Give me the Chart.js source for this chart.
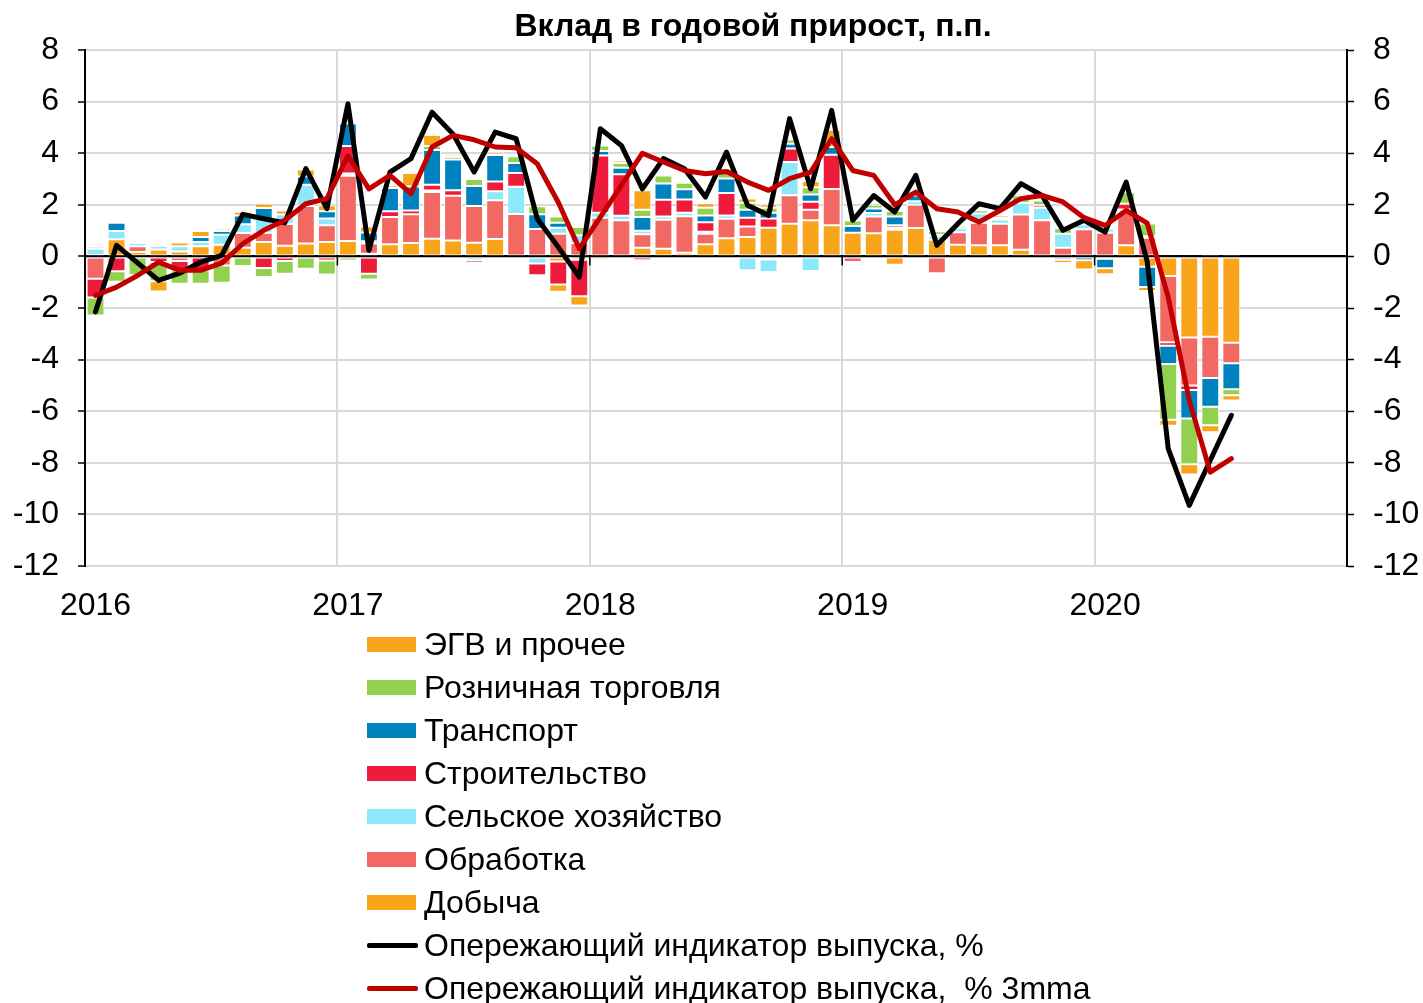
<!DOCTYPE html>
<html>
<head>
<meta charset="utf-8">
<script src="https://cdn.jsdelivr.net/npm/chart.js@4.4.1/dist/chart.umd.min.js"></script>
<style>
  body { margin: 0; background: #fff; font-family: "Liberation Sans", Arial, sans-serif; }
  #wrap { position: relative; width: 1423px; height: 1003px; }
  #title { position: absolute; top: 7px; left: 753px; transform: translateX(-50%); font-weight: bold; font-size: 32px; white-space: nowrap; color: #000; }
  #legend { position: absolute; left: 367px; top: 623px; }
  .row { height: 43px; display: flex; align-items: center; font-size: 32px; white-space: pre; color: #000; }
  .sw { width: 49px; height: 15px; margin-right: 8px; }
  .ln { width: 51px; height: 5px; margin-right: 6px; border-radius: 2px; }
</style>
</head>
<body>
<div id="wrap">
  <canvas id="grafico"></canvas>
  <div id="title">Вклад в годовой прирост, п.п.</div>
  <div id="legend"></div>
</div>
<script>
const months = [
  '2016-01','2016-02','2016-03','2016-04','2016-05','2016-06','2016-07','2016-08','2016-09','2016-10','2016-11','2016-12',
  '2017-01','2017-02','2017-03','2017-04','2017-05','2017-06','2017-07','2017-08','2017-09','2017-10','2017-11','2017-12',
  '2018-01','2018-02','2018-03','2018-04','2018-05','2018-06','2018-07','2018-08','2018-09','2018-10','2018-11','2018-12',
  '2019-01','2019-02','2019-03','2019-04','2019-05','2019-06','2019-07','2019-08','2019-09','2019-10','2019-11','2019-12',
  '2020-01','2020-02','2020-03','2020-04','2020-05','2020-06','2020-07','2020-08','2020-09','2020-10','2020-11','2020-12'
];

// вклады отраслей, п.п. (янв 2016 - июл 2020)
const dobycha = [0.05,0.66,0.17,0.27,0.19,0.39,0.45,0.34,0.56,0.41, 0.5,0.56,0.6,0.1,0.47,0.52,0.68,0.62,0.53,0.67,
  0,0,-0.2,-0.13,-0.13,0,0.34,0.3,0.14,0.47, 0.7,0.75,1.11,1.27,1.4,1.21,0.92,0.9,1.03,1.1,
  0.65,0.45,0.43,0.43,0.26,-0.1,0,0,-0.09,0.43, -0.4,-0.76,-3.14,-3.11,-3.35];
const obrabotka = [-0.87,0,0.22,0,-0.18,0,-0.35,0.57,0.36,0.85, 1.45,0.65,2.53,0.4,1.06,1.11,1.82,1.73,1.42,1.51,
  1.64,1.06,0.88,0.52,1.5,1.4,0.52,1.12,1.42,0.41, 0.76,0.41,-0.12,1.1,0.41,1.4,-0.22,0.65,0.08,0.9,
  -0.65,0.49,0.87,0.84,1.36,1.4,0.34,1.05,0.92,1.29, 0.72,-2.57,-1.86,-1.6,-0.79];
const selkhoz = [0.25,0.32,0.13,0.13,0.2,0.17,0.39,0.34,0.53,0.36, 0.83,0.26,0.08,0.09,0,0,0.05,0,-0.15,0.35,
  1.06,-0.28,0.23,0.3,0.19,0.18,0.13,0.13,0.13,0.08, 0.13,-0.54,-0.48,1.29,-0.57,0,0,0.13,0,0.14,
  0.13,0.15,0.36,0.16,0.45,0.49,0.54,0.2,0.16,0.1, 0.06,0.03,0.04,0.06,0.09];
const stroitelstvo = [-0.72,-0.58,0,-0.22,-0.36,-0.54,0,0,-0.45,-0.18, 0,-0.16,1.07,-0.67,0.22,0.15,0.23,0.21,-0.1,0.37,
  0.53,-0.45,-0.89,-1.41,2.22,1.6,-0.15,0.65,0.52,0.36, 0.87,0.34,0.36,0.52,0.31,1.33,0,0,0.1,0,
  0,0,0,0,0,0.09,0,0,0,0.22, 0,-0.13,-0.18,0,0];
const transport = [0,0.32,0,0,0,0.19,0.14,0.34,0.43,0, 0.32,0.28,0.87,0.34,0.9,0.93,1.34,1.2,0.78,1.03,
  0.39,0.57,0.19,0,0.18,0.26,0.54,0.63,0.39,0.27, 0.56,0.31,0.22,0.19,0.28,0.3,0.26,0.18,0.34,0.22,
  0.06,0,-0.07,0,0,0,-0.13,-0.15,-0.37,0, -0.79,-0.71,-1.1,-1.12,-1.01];
const roznitsa = [-0.7,-0.4,-0.72,-0.74,-0.52,-0.52,-0.67,-0.37,-0.35,-0.49, -0.48,-0.54,-0.16,-0.23,0,0,0.16,0.1,0.27,0,
  0.26,0.31,0.25,0.32,0.21,0.18,0.28,0.31,0.25,0.3, 0.26,0.27,0.2,0.16,0.28,0,0.21,0.14,0.21,0.18,
  0.13,0.1,0.13,0.08,0.3,0.19,0.21,0,0,0.45, 0.5,-2.16,-1.78,-0.71,-0.23];
const egv = [0.08,-0.08,-0.08,-0.4,0.15,0.23,0.09,0.14,0.17,0.16, 0.27,0.23,0.06,0.23,0.1,0.52,0.43,0.09,0.08,0.1,
  0,-0.05,-0.28,-0.36,0,0.1,0.75,0.06,0,0.17, 0.13,0.16,0.12,0,0.23,0.67,0.08,0,-0.32,0.08,
  0.06,0.06,0,0.09,0.09,-0.05,-0.13,-0.36,-0.23,-0.08, -0.15,-0.23,-0.39,-0.28,-0.21];

// опережающий индикатор выпуска, %
const indikator = [-2.15,0.43,-0.25,-0.93,-0.65,-0.22,0.04,1.63,1.46,1.3, 3.4,1.85,5.92,0.23,3.27,3.79,5.59,4.74,3.27,4.82,
  4.56,1.46,0.36,-0.8,4.95,4.3,2.62,3.79,3.4,2.3, 4.04,1.98,1.59,5.34,2.62,5.66,1.4,2.36,1.72,3.14,
  0.43,1.27,2.04,1.85,2.82,2.36,1.01,1.4,0.94,2.88, -0.2,-7.45,-9.65,-7.9,-6.16];
const indikator3mma = [-1.51,-1.19,-0.74,-0.22,-0.54,-0.54,-0.26,0.49,1.01,1.4, 2.04,2.24,3.9,2.62,3.14,2.43,4.24,4.69,4.52,4.24,
  4.21,3.59,2.1,0.3,1.52,2.75,4.0,3.66,3.33,3.2, 3.29,2.88,2.56,3.01,3.27,4.56,3.33,3.14,2.0,2.49,
  1.85,1.72,1.33,1.78,2.24,2.36,2.11,1.5,1.2,1.78, 1.29,-1.58,-5.58,-8.36,-7.84];

const yTicks = [-12, -10, -8, -6, -4, -2, 0, 2, 4, 6, 8];

Chart.defaults.font.family = '"Liberation Sans", Arial, sans-serif';
Chart.defaults.color = '#000';

function barra(label, data, color) {
  return {
    label: label,
    data: data,
    backgroundColor: color,
    borderColor: '#ffffff',
    borderWidth: 1,
    borderSkipped: false,
    barPercentage: 0.85,
    categoryPercentage: 1,
    stack: 'bars',
    order: 2
  };
}

function linea(label, data, color, stack, order) {
  return {
    type: 'line',
    label: label,
    data: data,
    borderColor: color,
    backgroundColor: color,
    borderWidth: 5,
    pointRadius: 0,
    fill: false,
    tension: 0,
    borderJoinStyle: 'round',
    borderCapStyle: 'round',
    stack: stack,
    order: order
  };
}

// нулевая линия и засечки по годам поверх столбцов, под линиями
const zeroLine = {
  id: 'zeroLine',
  beforeDatasetDraw(chart, args) {
    if (args.index !== 7) return;
    const { ctx, chartArea, scales } = chart;
    const y0 = scales.y.getPixelForValue(0);
    ctx.save();
    ctx.strokeStyle = '#000';
    ctx.lineWidth = 1.5;
    ctx.beginPath();
    ctx.moveTo(chartArea.left, y0);
    ctx.lineTo(chartArea.right, y0);
    months.forEach((m, i) => {
      if (i > 0 && i % 12 === 0) {
        const x = (scales.x.getPixelForValue(i) + scales.x.getPixelForValue(i - 1)) / 2;
        ctx.moveTo(x, y0);
        ctx.lineTo(x, y0 + 9);
      }
    });
    ctx.stroke();
    ctx.restore();
  }
};

const yAxis = (position, width, grid) => ({
  position: position,
  stacked: true,
  min: yTicks[0],
  max: yTicks[yTicks.length - 1],
  afterBuildTicks: scale => { scale.ticks = yTicks.map(v => ({ value: v })); },
  ticks: { font: { size: 32 }, padding: 19, color: '#000' },
  grid: grid,
  border: { color: '#000', width: 2 },
  afterFit: scale => { scale.width = width; }
});

const myChart = new Chart(document.getElementById('grafico'), {
  type: 'bar',
  data: {
    labels: months,
    datasets: [
      barra('Добыча', dobycha, '#F9A51B'),
      barra('Обработка', obrabotka, '#F26862'),
      barra('Сельское хозяйство', selkhoz, '#8EE8FC'),
      barra('Строительство', stroitelstvo, '#EE1C3A'),
      barra('Транспорт', transport, '#0082BE'),
      barra('Розничная торговля', roznitsa, '#92D050'),
      barra('ЭГВ и прочее', egv, '#F9A51B'),
      linea('Опережающий индикатор выпуска, %', indikator, '#000000', 'ind1', 1),
      linea('Опережающий индикатор выпуска,  % 3mma', indikator3mma, '#C00000', 'ind2', 0)
    ]
  },
  options: {
    responsive: true,
    maintainAspectRatio: false,
    animation: false,
    layout: { padding: { top: 50, bottom: 377, left: 0, right: 0 } },
    plugins: { legend: { display: false }, tooltip: { enabled: false } },
    scales: {
      x: {
        stacked: true,
        grid: {
          offset: true,
          drawTicks: false,
          lineWidth: 2,
          color: ctx => (ctx.index % 12 === 0 ? '#d9d9d9' : 'rgba(0,0,0,0)')
        },
        border: { display: false },
        ticks: {
          autoSkip: false,
          maxRotation: 0,
          padding: 21,
          font: { size: 32 },
          color: '#000',
          callback: (v, i) => (i % 12 === 0 ? months[i].slice(0, 4) : '')
        },
        afterFit: scale => { scale.height = 60; }
      },
      y: yAxis('left', 85, {
        lineWidth: 2,
        color: ctx => (ctx.tick && ctx.tick.value === 0 ? '#000' : '#d9d9d9'),
        tickColor: '#000',
        tickLength: 7,
        tickWidth: 1.5
      }),
      y2: yAxis('right', 76, {
        drawOnChartArea: false,
        tickColor: '#000',
        tickLength: 7,
        tickWidth: 1.5
      })
    }
  },
  plugins: [zeroLine]
});

// легенда в один столбец, как в оригинале
const legend = document.getElementById('legend');
[6, 5, 4, 3, 2, 1, 0, 7, 8].forEach(i => {
  const ds = myChart.data.datasets[i];
  const row = document.createElement('div');
  row.className = 'row';
  const mark = document.createElement('div');
  mark.className = ds.type === 'line' ? 'ln' : 'sw';
  mark.style.background = ds.type === 'line' ? ds.borderColor : ds.backgroundColor;
  const text = document.createElement('span');
  text.textContent = ds.label;
  row.appendChild(mark);
  row.appendChild(text);
  legend.appendChild(row);
});
</script>
</body>
</html>
